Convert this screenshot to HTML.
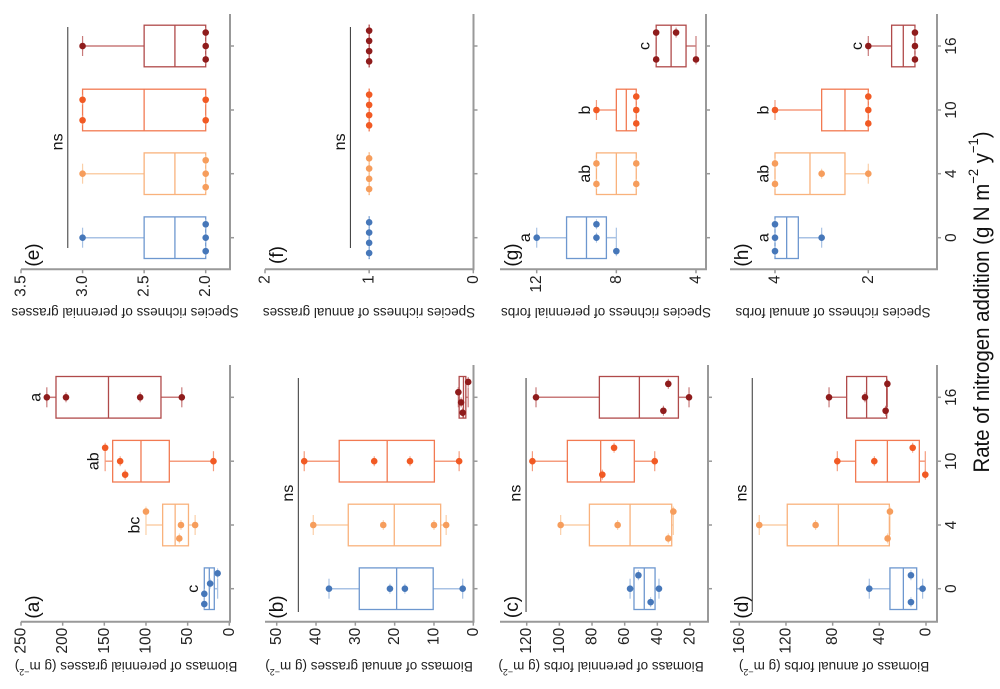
<!DOCTYPE html>
<html><head><meta charset="utf-8"><style>
html,body{margin:0;padding:0;background:#fff;}
svg{display:block;font-family:"Liberation Sans",Arial,sans-serif;}
</style></head><body>
<svg id="fig" width="1000" height="689" viewBox="0 0 1000 689" xmlns="http://www.w3.org/2000/svg"></svg>
<script>
const categories = ["0","4","10","16"];
// panel a: biomass perennial grasses
const aMin=[14,41,19,57], aQ1=[18,49,72,82], aMed=[24,65,106,145], aQ3=[30,80,140,208], aMax=[30,100,149,219];
const aPts=[[14,23,30,30],[100,58,41,60],[149,131,125,19],[219,196,107,57]];
const aJit=[[-0.24,-0.08,0.08,0.24],[-0.21,0,0,0.21],[-0.21,0,0.21,0],[0,0,0,0]];
const aTicks=[250,200,150,100,50,0];
const aLetters=["c","bc","ab","a"];
// panel b: biomass annual grasses
const bMin=[2.7,6.9,3.6,1.3], bQ1=[10.2,8.3,9.9,1.9], bMed=[19.5,20.1,21.9,2.5], bQ3=[29,31.8,34.1,3.6], bMax=[36.7,40.7,43,3.8];
const bPts=[[36.7,21.2,17.4,2.7],[40.7,22.9,10,6.9],[43,25.2,16.1,3.6],[1.3,3.8,3.1,2.7]];
const bJit=[[0,0,0,0],[0,0,0,0],[0,0,0,0],[-0.24,-0.08,0.08,0.24]];
const bTicks=[50,40,30,20,10,0];
// panel c: biomass perennial forbs
const cMin=[39,30.2,41.6,20.6], cQ1=[41.4,31.2,54.1,27.1], cMed=[48,56.7,74.7,51], cQ3=[54.3,81.6,95.1,75.5], cMax=[56.7,99.2,116.5,114.3];
const cPts=[[56.7,51.6,39,44.1],[99.2,64.3,30.2,33.3],[116.5,66.5,73.7,41.6],[114.3,33.3,36.3,20.6]];
const cJit=[[0,-0.21,0,0.21],[0,0,-0.21,0.21],[0,-0.21,0.21,0],[0,-0.21,0.21,0]];
const cTicks=[120,100,80,60,40,20];
// panel d: biomass annual forbs
const dMin=[2.9,30.9,0.6,33.1], dQ1=[8,31.4,5.7,33.7], dMed=[19.4,75.1,33.1,50.9], dQ3=[30.9,118.9,60.3,68], dMax=[48.6,142.9,76,83.1];
const dPts=[[48.6,12.9,12.9,2.9],[142.9,94.6,30.9,32.9],[76,44.3,11.4,0.6],[83.1,52.3,34.6,33.1]];
const dJit=[[0,-0.21,0.21,0],[0,0,-0.21,0.21],[0,0,-0.21,0.21],[0,0,0.21,-0.21]];
const dTicks=[160,120,80,40,0];
// panel e: richness perennial grasses
const eMin=[2,2,2,2], eQ1=[2,2,2,2], eMed=[2.25,2.25,2.5,2.25], eQ3=[2.5,2.5,3,2.5], eMax=[3,3,3,3];
const ePts=[[3,2,2,2],[3,2,2,2],[3,3,2,2],[3,2,2,2]];
const eJit=[[0,-0.21,0,0.21],[0,-0.21,0,0.21],[-0.16,0.16,-0.16,0.16],[0,-0.21,0,0.21]];
const eTicks=[3.5,3.0,2.5,2.0];
const eTickLabels=["3.5","3.0","2.5","2.0"];
// panel f: richness annual grasses
const fMin=[1,1,1,1], fQ1=[1,1,1,1], fMed=[1,1,1,1], fQ3=[1,1,1,1], fMax=[1,1,1,1];
const fPts=[[1,1,1,1],[1,1,1,1],[1,1,1,1],[1,1,1,1]];
const fJit=[[-0.24,-0.08,0.08,0.24],[-0.24,-0.08,0.08,0.24],[-0.24,-0.08,0.08,0.24],[-0.24,-0.08,0.08,0.24]];
const fTicks=[2,1,0];
// panel g: richness perennial forbs
const gMin=[8,7,7,4], gQ1=[8.5,7,7,4.5], gMed=[9.5,8,7.5,5.25], gQ3=[10.5,9,8,6], gMax=[12,9,9,6];
const gPts=[[12,9,9,8],[9,9,7,7],[9,7,7,7],[6,5,6,4]];
const gJit=[[0,-0.21,0,0.21],[-0.16,0.16,-0.16,0.16],[0,-0.21,0,0.21],[-0.21,-0.21,0.21,0.21]];
const gTicks=[12,8,4];
const gLetters=["a","ab","b","c"];
// panel h: richness annual forbs
const hMin=[3,2,2,1], hQ1=[3.5,2.5,2,1], hMed=[3.75,3.25,2.5,1.25], hQ3=[4,4,3,1.5], hMax=[4,4,4,2];
const hPts=[[4,4,4,3],[4,3,4,2],[4,2,2,2],[2,1,1,1]];
const hJit=[[-0.21,0,0.21,0],[-0.16,0,0.16,0],[0,-0.21,0,0.21],[0,-0.21,0,0.21]];
const hTicks=[4,2];
const hLetters=["a","ab","b","c"];

const NS="http://www.w3.org/2000/svg";
const svg=document.getElementById('fig');
const boxCol=["#6d97cf","#f9b27c","#f27a52","#b04a4a"];
const whCol=["#a8c2e4","#fbcfa8","#f59c7e","#c87a7a"];
const dotCol=["#4677b9","#f69d5c","#f15a24","#8f1c1c"];
const AX="#999999";

function mk(tag,attrs,parent){
  const el=document.createElementNS(NS,tag);
  for(const k in attrs) el.setAttribute(k,attrs[k]);
  (parent||svg).appendChild(el);
  return el;
}

const panels=[
 {id:"a",row:1,vA:250,xA:21,vB:0,xB:229.3,ax0:21,ax1:230,mn:aMin,q1:aQ1,md:aMed,q3:aQ3,mx:aMax,pts:aPts,jit:aJit,ticks:aTicks,letters:aLetters,title:["Biomass of perennial grasses (g m","−2",")"],tc:126},
 {id:"b",row:1,vA:50,xA:276.7,vB:0,xB:473.3,ax0:265,ax1:473.5,mn:bMin,q1:bQ1,md:bMed,q3:bQ3,mx:bMax,pts:bPts,jit:bJit,ticks:bTicks,ns:44.5,title:["Biomass of annual grasses (g m","−2",")"],tc:369},
 {id:"c",row:1,vA:120,xA:526.7,vB:20,xB:690,ax0:500,ax1:708,mn:cMin,q1:cQ1,md:cMed,q3:cQ3,mx:cMax,pts:cPts,jit:cJit,ticks:cTicks,ns:120.4,title:["Biomass of perennial forbs (g m","−2",")"],tc:601},
 {id:"d",row:1,vA:160,xA:739.3,vB:0,xB:926,ax0:730,ax1:937,mn:dMin,q1:dQ1,md:dMed,q3:dQ3,mx:dMax,pts:dPts,jit:dJit,ticks:dTicks,ns:148.9,title:["Biomass of annual forbs (g m","−2",")"],tc:834,nlab:true},
 {id:"e",row:0,vA:3.5,xA:21,vB:2.0,xB:205.7,ax0:21,ax1:230,mn:eMin,q1:eQ1,md:eMed,q3:eQ3,mx:eMax,pts:ePts,jit:eJit,ticks:eTicks,tickLabels:eTickLabels,ns:3.12,title:["Species richness of perennial grasses"],tc:125},
 {id:"f",row:0,vA:2,xA:265,vB:0,xB:473.3,ax0:265,ax1:473.5,mn:fMin,q1:fQ1,md:fMed,q3:fQ3,mx:fMax,pts:fPts,jit:fJit,ticks:fTicks,ns:1.18,title:["Species richness of annual grasses"],tc:369},
 {id:"g",row:0,vA:12,xA:536.7,vB:4,xB:696,ax0:500,ax1:706,mn:gMin,q1:gQ1,md:gMed,q3:gQ3,mx:gMax,pts:gPts,jit:gJit,ticks:gTicks,letters:gLetters,title:["Species richness of perennial  forbs"],tc:606},
 {id:"h",row:0,vA:4,xA:775,vB:2,xB:868.3,ax0:730,ax1:937,mn:hMin,q1:hQ1,md:hMed,q3:hQ3,mx:hMax,pts:hPts,jit:hJit,ticks:hTicks,letters:hLetters,title:["Species richness of annual forbs"],tc:833,nlab:true}
];
const rowGeom=[
 {axisY:269.3,top:14,cy:[237.7,173.7,110,46],titleY:313,labY:255,nsTop:27,nsBot:248},
 {axisY:621.7,top:365,cy:[588.7,525,461.2,397.3],titleY:667,labY:607,nsTop:378,nsBot:612}
];
const STEP=64, HB=20.8;

panels.forEach(p=>{
  const g=rowGeom[p.row];
  const px=v=>p.xA+(v-p.vA)*(p.xB-p.xA)/(p.vB-p.vA);
  const cy=i=>g.cy[i];
  const grp=mk('g',{});
  
  
  // axes
  const xa=mk('line',{x1:p.ax0,y1:g.axisY,x2:p.ax1+1,y2:g.axisY,stroke:AX,'stroke-width':2},grp);
  
  
  const ya=mk('line',{x1:p.ax1,y1:g.top,x2:p.ax1,y2:g.axisY,stroke:AX,'stroke-width':2},grp);
  
  
  p.ticks.forEach((t,k)=>{
    const x=px(t);
    const tk=mk('line',{x1:x,y1:g.axisY,x2:x,y2:g.axisY+4,stroke:AX,'stroke-width':1.5},grp);
    
    
    const lab=p.tickLabels?p.tickLabels[k]:String(t);
    const tx=mk('text',{x:x,y:g.axisY+6,'font-size':15.5,fill:'#222','text-anchor':'end','dominant-baseline':'central',transform:`rotate(-90 ${x} ${g.axisY+6})`},grp);
    tx.textContent=lab;
    
    
  });
  categories.forEach((c,i)=>{
    const y=cy(i);
    const tk=mk('line',{x1:p.ax1,y1:y,x2:p.ax1+4,y2:y,stroke:AX,'stroke-width':1.5},grp);
    
    
    if(p.nlab){
      const tx=mk('text',{x:951.5,y:y,'font-size':15.5,fill:'#222','text-anchor':'middle','dominant-baseline':'central',transform:`rotate(-90 951.5 ${y})`},grp);
      tx.textContent=c;
      
      
    }
  });
  // title
  const tt=mk('text',{x:p.tc,y:g.titleY,'font-size':13.5,fill:'#222','text-anchor':'middle','dominant-baseline':'central',transform:`rotate(180 ${p.tc} ${g.titleY})`},grp);
  
  
  const s0=mk('tspan',{},tt); s0.textContent=p.title[0];
  if(p.title.length>1){
    const s1=mk('tspan',{'baseline-shift':'super','font-size':9},tt); s1.textContent=p.title[1];
    const s2=mk('tspan',{},tt); s2.textContent=p.title[2];
  }
  // panel label
  const lx=p.ax0+12.5;
  const pl=mk('text',{x:lx,y:g.labY,'font-size':19,fill:'#111','text-anchor':'middle','dominant-baseline':'central',transform:`rotate(-90 ${lx} ${g.labY})`},grp);
  pl.textContent='('+p.id+')';
  
  
  // ns
  if(p.ns!==undefined){
    const nx=px(p.ns);
    const nl=mk('line',{x1:nx,y1:g.nsTop,x2:nx,y2:g.nsBot,stroke:'#333','stroke-width':1},grp);
    
    
    const ny=(g.cy[1]+g.cy[2])/2;
    const nt=mk('text',{x:nx-10,y:ny,'font-size':16,fill:'#111','text-anchor':'middle','dominant-baseline':'central',transform:`rotate(-90 ${nx-10} ${ny})`},grp);
    nt.textContent='ns';
    
    
  }
  // boxes
  categories.forEach((c,i)=>{
    const y=cy(i);
    const bg=mk('g',{},grp);
    
    
    const xq3=px(p.q3[i]), xq1=px(p.q1[i]), xmd=px(p.md[i]), xmx=px(p.mx[i]), xmn=px(p.mn[i]);
    const w=Math.abs(xq1-xq3);
    if(Math.abs(xmx-xq3)>0.5){
      mk('line',{x1:xmx,y1:y,x2:xq3,y2:y,stroke:whCol[i],'stroke-width':1.5},bg);
      mk('line',{x1:xmx,y1:y-10,x2:xmx,y2:y+10,stroke:whCol[i],'stroke-width':1.2},bg);
    }
    if(Math.abs(xmn-xq1)>0.5){
      mk('line',{x1:xq1,y1:y,x2:xmn,y2:y,stroke:whCol[i],'stroke-width':1.5},bg);
      mk('line',{x1:xmn,y1:y-10,x2:xmn,y2:y+10,stroke:whCol[i],'stroke-width':1.2},bg);
    }
    const r=mk('rect',{x:Math.min(xq1,xq3),y:y-HB,width:Math.max(w,0.01),height:2*HB,fill:'none',stroke:boxCol[i],'stroke-width':1.3},bg);
    
    
    const m=mk('line',{x1:xmd,y1:y-HB,x2:xmd,y2:y+HB,stroke:boxCol[i],'stroke-width':1.3},bg);
    
    
    p.pts[i].forEach((v,k)=>{
      const cx=px(v), yy=y+p.jit[i][k]*STEP;
      mk('line',{x1:cx,y1:yy-5,x2:cx,y2:yy+5,stroke:whCol[i],'stroke-width':1},bg);
      const d=mk('circle',{cx:cx,cy:yy,r:3.3,fill:dotCol[i]},bg);
      
      
    });
    if(p.letters){
      const top=Math.max(p.mx[i],...p.pts[i]);
      const lxx=px(top)-11;
      const lt=mk('text',{x:lxx,y:y,'font-size':16,fill:'#111','text-anchor':'middle','dominant-baseline':'central',transform:`rotate(-90 ${lxx} ${y})`},bg);
      lt.textContent=p.letters[i];
      
      
    }
  });
});

// shared x title
const xt=mk('text',{x:981,y:302,'font-size':22,fill:'#111','text-anchor':'middle','dominant-baseline':'central',textLength:341,lengthAdjust:'spacingAndGlyphs',transform:'rotate(-90 981 302)'});


const x0=mk('tspan',{},xt); x0.textContent='Rate of nitrogen addition (g N m';
const x1=mk('tspan',{'baseline-shift':'super','font-size':14},xt); x1.textContent='−2';
const x2=mk('tspan',{},xt); x2.textContent=' y';
const x3=mk('tspan',{'baseline-shift':'super','font-size':14},xt); x3.textContent='−1';
const x4=mk('tspan',{},xt); x4.textContent=')';
</script>
</body></html>
